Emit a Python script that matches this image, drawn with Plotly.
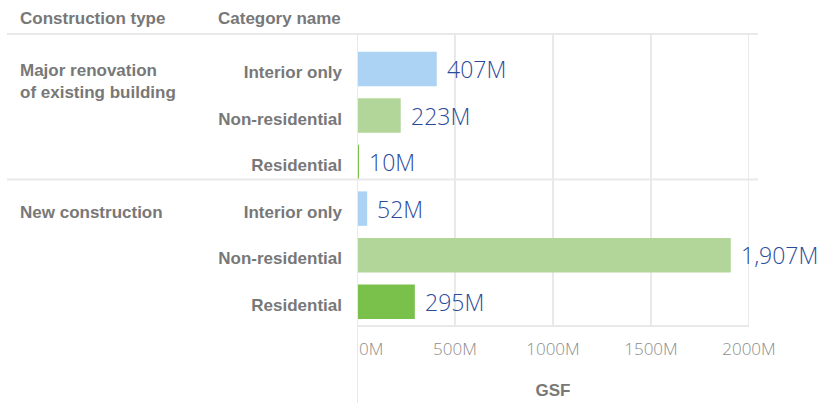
import plotly.graph_objects as go

construction_types = ["Major renovation<br>of existing building", "New construction"]
category_names = ["Interior only", "Non-residential", "Residential"]
values = {
    "Major renovation<br>of existing building": [407, 223, 10],
    "New construction": [52, 1907, 295],
}
bar_colors = {"Interior only": "#acd3f3", "Non-residential": "#b2d699", "Residential": "#79c14b"}
tick_vals = [0, 500, 1000, 1500, 2000]
tick_text = ["0M", "500M", "1000M", "1500M", "2000M"]

W, H = 822, 403
ML, MR, MT, MB = 357, 73, 34, 78
PW = W - ML - MR
PH = H - MT - MB

keys, xs, cols, texts, ticks = [], [], [], [], []
for g in construction_types:
    for c, v in zip(category_names, values[g]):
        keys.append(g + "|" + c)
        xs.append(v)
        cols.append(bar_colors[c])
        texts.append(f"{v:,}M")
        ticks.append(c)

GRAY = "#787878"
LINE = "#e9e9e9"
LBL = "Liberation Sans"
VALFONT = dict(family="Open Sans", size=23, color="#2c4a9b", weight=300)
TICKFONT = dict(family="Open Sans", size=17, color="#8c8c8c", weight=300)

fig = go.Figure(go.Bar(
    x=xs, y=keys, orientation="h",
    marker=dict(color=cols, line=dict(width=0)),
    hoverinfo="skip",
))

def px_x(p):
    return (p - ML) / PW

annotations = [
    dict(text="<b>Construction type</b>", xref="paper", yref="paper", x=px_x(18), y=1,
         xanchor="left", yanchor="middle", yshift=16, showarrow=False,
         font=dict(family=LBL, size=17, color=GRAY)),
    dict(text="<b>Category name</b>", xref="paper", yref="paper", x=px_x(216), y=1,
         xanchor="left", yanchor="middle", yshift=16, showarrow=False,
         font=dict(family=LBL, size=17, color=GRAY)),
    dict(text=tick_text[0], x=tick_vals[0], y=0, xref="x", yref="paper", xanchor="left",
         yanchor="middle", yshift=-23, xshift=0, showarrow=False, font=TICKFONT),
]
for k, v, t in zip(keys, xs, texts):
    annotations.append(dict(text=t, x=v, y=k, xref="x", yref="y", xanchor="left",
                            yanchor="middle", xshift=8, showarrow=False, font=VALFONT))
for g, ys in zip(construction_types, [10, 8]):
    annotations.append(dict(
        text="<b>" + g + "</b>", xref="paper", yref="y", x=px_x(18), y=g + "|" + category_names[0],
        xanchor="left", yanchor="top", yshift=ys, showarrow=False, align="left",
        font=dict(family=LBL, size=17, color=GRAY)))

shapes = [
    dict(type="line", xref="paper", yref="paper", x0=px_x(7), x1=px_x(758), y0=1, y1=1,
         line=dict(color=LINE, width=2)),
    dict(type="line", xref="paper", yref="paper", x0=px_x(7), x1=px_x(758),
         y0=0.5, y1=0.5, line=dict(color=LINE, width=2)),
    dict(type="line", xref="x", yref="paper", x0=0, x1=0, y0=1, y1=-MB / PH,
         line=dict(color=LINE, width=2)),
    dict(type="line", xref="x", yref="paper", x0=2000, x1=2000, y0=1, y1=0,
         line=dict(color=LINE, width=2)),
]

fig.update_layout(
    width=W, height=H, margin=dict(l=ML, r=MR, t=MT, b=MB, autoexpand=False),
    plot_bgcolor="white", paper_bgcolor="white",
    showlegend=False, bargap=0.26,
    annotations=annotations, shapes=shapes,
    xaxis=dict(range=[0, 2000], tickvals=tick_vals[1:], ticktext=tick_text[1:],
               showgrid=True, gridcolor=LINE, gridwidth=2, zeroline=False,
               showline=True, linecolor=LINE, linewidth=2, ticks="",
               tickfont=TICKFONT, ticklabelstandoff=8, automargin=False,
               title=dict(text="<b>GSF</b>", standoff=25,
                          font=dict(family=LBL, size=17, color=GRAY))),
    yaxis=dict(type="category", categoryorder="array", categoryarray=keys,
               autorange="reversed", tickvals=keys, ticktext=ticks,
               showgrid=False, zeroline=False, showline=False, ticks="",
               ticklabelstandoff=14, ticklabelshift=-3, automargin=False,
               tickfont=dict(family=LBL, size=17, color=GRAY, weight="bold")),
    font=dict(family=LBL),
)

fig.write_html("out.html", config={"displayModeBar": False},
               post_script="document.body.style.margin='0';document.body.style.overflow='hidden';")
